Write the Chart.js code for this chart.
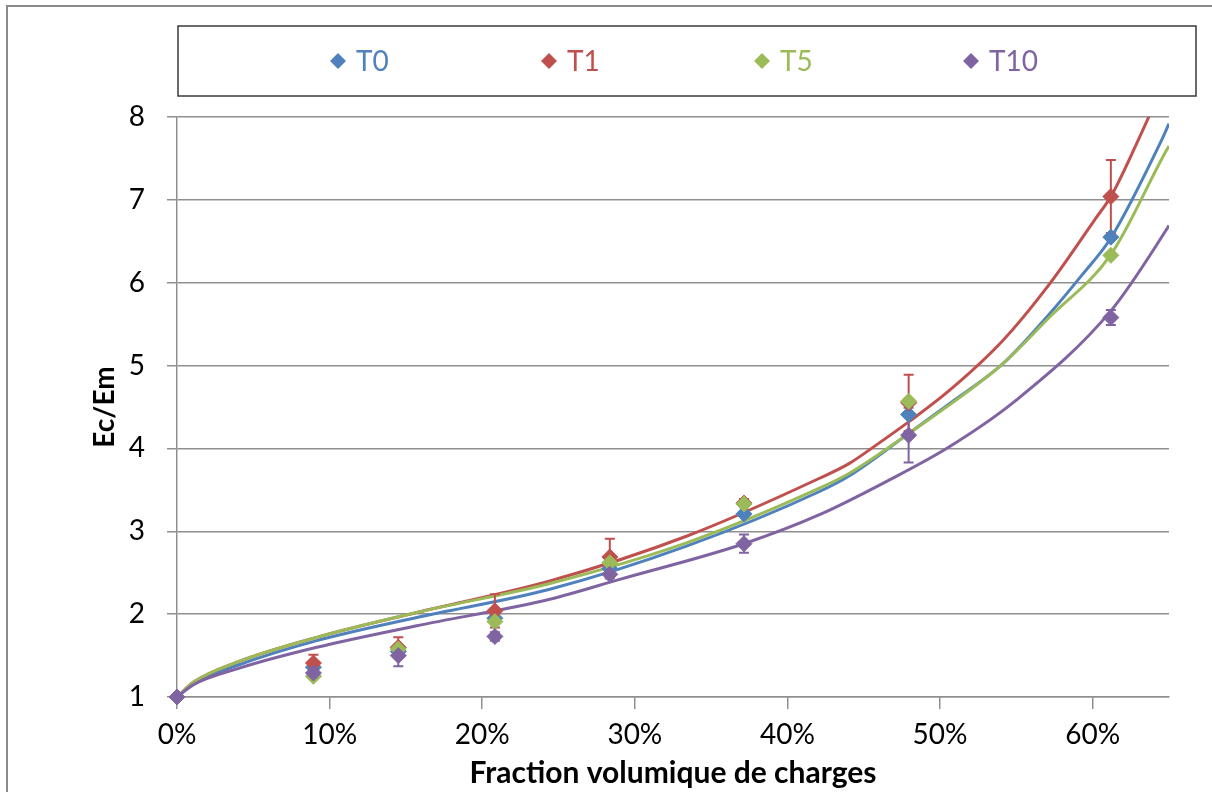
<!DOCTYPE html>
<html>
<head>
<meta charset="utf-8">
<script src="https://cdn.jsdelivr.net/npm/chart.js@4.4.1/dist/chart.umd.min.js"></script>
<style>
  body { margin: 0; background: #fff; }
  #contenedor { width: 1212px; height: 792px; }
</style>
</head>
<body>
<div id="contenedor"><canvas id="grafico" width="1212" height="792"></canvas></div>
<script>
// Series y colores (paleta Excel)
const series = ['T0', 'T1', 'T5', 'T10'];
const colores = ['#4F81BD', '#C0504D', '#9BBB59', '#8064A2'];

// Puntos medidos: fraccion volumica (%) y Ec/Em
const fraccion = [0, 8.94, 14.5, 20.83, 28.36, 37.15, 47.94, 61.19];
const medidaT0 = [1, 1.36, 1.55, 1.95, 2.55, 3.21, 4.41, 6.55];
const medidaT1 = [1, 1.41, 1.60, 2.04, 2.69, 3.34, 4.55, 7.04];
const medidaT5 = [1, 1.25, 1.58, 1.91, 2.62, 3.33, 4.57, 6.33];
const medidaT10 = [1, 1.29, 1.50, 1.73, 2.48, 2.85, 4.16, 5.58];

// Barras de error (+/-)
const errorT0 = [0, 0, 0, 0, 0, 0, 0, 0];
const errorT1 = [0, 0.10, 0.12, 0.20, 0.22, 0.05, 0.34, 0.44];
const errorT5 = [0, 0, 0, 0, 0, 0, 0, 0];
const errorT10 = [0, 0.05, 0.13, 0.05, 0.05, 0.11, 0.33, 0.09];

// Curvas del modelo
const curvaX_T0 = [0, 1.09, 3.93, 9.16, 15.71, 24.43, 33.38, 42.1, 44.06, 47.94, 50.61, 54.1, 57.15, 59.33, 61.19, 64.46, 65];
const curvaT0 = [1, 1.16, 1.38, 1.68, 1.96, 2.30, 2.82, 3.48, 3.67, 4.18, 4.54, 5.02, 5.62, 6.10, 6.54, 7.70, 7.92];
const curvaX_T1 = [0, 1.09, 3.93, 9.16, 15.71, 24.43, 33.38, 42.1, 44.06, 45.81, 47.94, 50.61, 54.1, 57.15, 60.21, 61.19, 62.93, 65];
const curvaT1 = [1, 1.18, 1.42, 1.72, 2.02, 2.40, 2.94, 3.64, 3.82, 4.04, 4.32, 4.70, 5.30, 5.98, 6.78, 7.04, 7.70, 8.55];
const curvaX_T5 = [0, 1.09, 3.93, 9.16, 15.71, 24.43, 33.38, 42.1, 44.06, 47.94, 54.1, 57.15, 61.19, 64.9, 65];
const curvaT5 = [1, 1.18, 1.42, 1.72, 2.02, 2.37, 2.86, 3.52, 3.70, 4.18, 5.02, 5.58, 6.34, 7.62, 7.65];
const curvaX_T10 = [0, 1.09, 3.93, 9.16, 15.71, 24.43, 29.01, 37.15, 42.1, 46.68, 50.61, 54.97, 61.19, 64.9, 65];
const curvaT10 = [1, 1.15, 1.34, 1.60, 1.86, 2.18, 2.42, 2.85, 3.20, 3.62, 4.02, 4.58, 5.66, 6.66, 6.69];

// Ejes
const ticksX = [0, 10, 20, 30, 40, 50, 60];
const ticksY = [1, 2, 3, 4, 5, 6, 7, 8];

const fuente = 'Lato, "Open Sans", sans-serif';

function puntos(xs, ys) {
    return xs.map((x, i) => ({ x: x, y: ys[i] }));
}

const medidas = [medidaT0, medidaT1, medidaT5, medidaT10];
const errores = [errorT0, errorT1, errorT5, errorT10];
const curvasX = [curvaX_T0, curvaX_T1, curvaX_T5, curvaX_T10];
const curvasY = [curvaT0, curvaT1, curvaT5, curvaT10];

const datasets = [];
// curvas (debajo)
series.forEach((nombre, i) => {
    datasets.push({
        label: nombre + ' modele',
        data: puntos(curvasX[i], curvasY[i]),
        showLine: true,
        borderColor: colores[i],
        borderWidth: 3,
        pointRadius: 0,
        cubicInterpolationMode: 'monotone',
        order: 8 - i
    });
});
// puntos medidos (encima, T10 arriba de todo)
series.forEach((nombre, i) => {
    datasets.push({
        label: nombre,
        data: puntos(fraccion, medidas[i]),
        showLine: false,
        backgroundColor: colores[i],
        borderColor: colores[i],
        borderWidth: 1,
        pointStyle: 'rectRot',
        pointRadius: 8,
        clip: false,
        errores: errores[i],
        order: 4 - i
    });
});

// Barras de error antes de dibujar los puntos
const barrasError = {
    id: 'barrasError',
    beforeDatasetDraw(chart, args) {
        if (chart.data.datasets[args.index].label !== series[0]) return;
        const ctx = chart.ctx;
        const y = chart.scales.y;
        ctx.save();
        chart.data.datasets.forEach((ds, di) => {
            if (!ds.errores) return;
            const meta = chart.getDatasetMeta(di);
            ds.errores.forEach((e, j) => {
                if (!e) return;
                const px = meta.data[j].x;
                const arriba = y.getPixelForValue(ds.data[j].y + e);
                const abajo = y.getPixelForValue(ds.data[j].y - e);
                ctx.strokeStyle = ds.borderColor;
                ctx.lineWidth = 2;
                ctx.beginPath();
                ctx.moveTo(px, arriba); ctx.lineTo(px, abajo);
                ctx.moveTo(px - 5, arriba); ctx.lineTo(px + 5, arriba);
                ctx.moveTo(px - 5, abajo); ctx.lineTo(px + 5, abajo);
                ctx.stroke();
            });
        });
        ctx.restore();
    }
};

// Marco exterior y leyenda en caja
const leyendaCaja = {
    id: 'leyendaCaja',
    beforeDraw(chart) {
        const ctx = chart.ctx;
        ctx.save();
        ctx.fillStyle = '#fff';
        ctx.fillRect(0, 0, chart.width, chart.height);
        ctx.strokeStyle = '#8a8a8a';
        ctx.lineWidth = 2;
        ctx.beginPath();
        ctx.moveTo(7, chart.height); ctx.lineTo(7, 6); ctx.lineTo(chart.width, 6);
        ctx.stroke();
        ctx.restore();
    },
    afterDraw(chart) {
        const ctx = chart.ctx;
        ctx.save();
        ctx.strokeStyle = '#3a3a3a';
        ctx.lineWidth = 1.5;
        ctx.strokeRect(178, 26, 1018, 70);
        const posX = [338, 549, 762, 971];
        const cy = 61;
        ctx.font = '28px ' + fuente;
        ctx.textBaseline = 'middle';
        series.forEach((nombre, i) => {
            ctx.fillStyle = colores[i];
            ctx.beginPath();
            ctx.moveTo(posX[i] - 8, cy); ctx.lineTo(posX[i], cy - 8);
            ctx.lineTo(posX[i] + 8, cy); ctx.lineTo(posX[i], cy + 8);
            ctx.closePath();
            ctx.fill();
            ctx.fillText(nombre, posX[i] + 18, cy + 1);
        });
        ctx.restore();
    }
};

const gris = '#8f8f8f';

new Chart(document.getElementById('grafico'), {
    type: 'scatter',
    data: { datasets: datasets },
    options: {
        responsive: false,
        animation: false,
        devicePixelRatio: 1,
        layout: { padding: { top: 117, right: 43, left: 0, bottom: 0 } },
        plugins: {
            legend: { display: false },
            tooltip: { enabled: false }
        },
        scales: {
            x: {
                type: 'linear',
                min: 0,
                max: 65,
                afterBuildTicks: s => { s.ticks = ticksX.map(v => ({ value: v })); },
                afterFit: s => { s.height = 95; },
                ticks: {
                    color: '#000',
                    font: { family: fuente, size: 28 },
                    padding: 9,
                    maxRotation: 0,
                    callback: v => v + '%'
                },
                grid: { drawOnChartArea: false, color: gris, lineWidth: 1.5, tickLength: 12 },
                border: { color: gris, width: 1.5 },
                title: {
                    display: true,
                    text: 'Fraction volumique de charges',
                    color: '#000',
                    font: { family: fuente, size: 30, weight: 'bold' },
                    padding: { top: 0, bottom: 1 }
                }
            },
            y: {
                min: 1,
                max: 8,
                afterBuildTicks: s => { s.ticks = ticksY.map(v => ({ value: v })); },
                afterFit: s => { s.width = 177; },
                ticks: {
                    color: '#000',
                    font: { family: fuente, size: 28 },
                    padding: 22
                },
                grid: { color: gris, lineWidth: 1.5, tickLength: 10 },
                border: { color: gris, width: 1.5 },
                title: {
                    display: true,
                    text: 'Ec/Em',
                    color: '#000',
                    font: { family: fuente, size: 28, weight: 'bold' },
                    padding: { top: 88, bottom: 0 }
                }
            }
        }
    },
    plugins: [barrasError, leyendaCaja]
});
</script>
</body>
</html>
